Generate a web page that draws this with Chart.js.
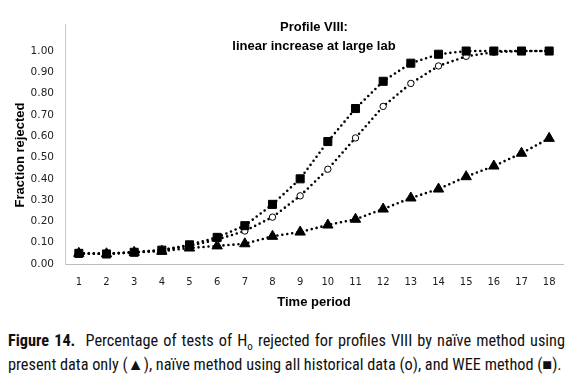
<!DOCTYPE html>
<html><head><meta charset="utf-8">
<script src="https://cdn.jsdelivr.net/npm/chart.js@4/dist/chart.umd.min.js"></script>
<style>
html,body{margin:0;padding:0;background:#fff;width:573px;height:383px;overflow:hidden}
#wrap{position:absolute;left:0;top:0;width:573px;height:318px}
#cap{position:absolute;left:8px;top:329px;width:557px;font-family:'Liberation Sans Narrow','Arial Narrow','Roboto Condensed',sans-serif;font-size:16.3px;line-height:24px;text-align:justify;color:#111}
#cap sub{font-size:11px;line-height:0}
</style></head><body>
<div id="wrap"><canvas id="c" width="573" height="318"></canvas></div>
<div id="cap"><b>Figure 14.</b>&nbsp; Percentage of tests of H<sub>o</sub> rejected for profiles VIII by naïve method using present data only (▲), naïve method using all historical data (o), and WEE method (■).</div>
<script>
const periods = ['1','2','3','4','5','6','7','8','9','10','11','12','13','14','15','16','17','18'];
const naivePresent = [0.05,0.048,0.055,0.06,0.075,0.085,0.095,0.13,0.15,0.183,0.21,0.258,0.31,0.352,0.41,0.46,0.52,0.59];
const naiveHistorical = [0.05,0.048,0.055,0.065,0.085,0.115,0.155,0.22,0.32,0.445,0.592,0.74,0.848,0.93,0.975,0.995,1.0,1.0];
const wee = [0.05,0.047,0.055,0.065,0.09,0.125,0.18,0.28,0.40,0.575,0.73,0.858,0.943,0.985,1.0,1.0,1.0,1.0];
const yTicks = [0,0.1,0.2,0.3,0.4,0.5,0.6,0.7,0.8,0.9,1.0];
const titleLines = ['Profile VIII:','linear increase at large lab'];
const xTitle = 'Time period';
const yTitle = 'Fraction rejected';

const textPlugin = {
  id:'texts',
  afterDraw(chart){
    const ctx = chart.ctx, a = chart.chartArea;
    ctx.save();
    ctx.fillStyle = '#000';
    ctx.font = 'bold 13px "Liberation Sans", sans-serif';
    ctx.textAlign = 'center';
    ctx.textBaseline = 'middle';
    const cx = (a.left + a.right) / 2;
    ctx.fillText(titleLines[0], cx, 27);
    ctx.fillText(titleLines[1], cx, 46);
    ctx.translate(20, 155);
    ctx.rotate(-Math.PI/2);
    ctx.fillText(yTitle, 0, 0);
    ctx.restore();
  }
};

const dotted = {borderDash:[0,5], borderCapStyle:'round', borderWidth:2.6, borderColor:'#000', tension:0, fill:false};

new Chart(document.getElementById('c'), {
  type:'line',
  data:{
    labels: periods,
    datasets:[
      Object.assign({label:'WEE', data:wee, pointStyle:'rect', pointRadius:5.7, pointBackgroundColor:'#000', pointBorderColor:'#000', pointBorderWidth:1}, dotted),
      Object.assign({label:'Naive (historical data)', data:naiveHistorical, pointStyle:'circle', pointRadius:3.2, pointBackgroundColor:'#fff', pointBorderColor:'#000', pointBorderWidth:1}, dotted),
      Object.assign({label:'Naive (present data)', data:naivePresent, pointStyle:'triangle', pointRadius:6, pointBackgroundColor:'#000', pointBorderColor:'#000', pointBorderWidth:1}, dotted)
    ]
  },
  options:{
    responsive:false, animation:false, devicePixelRatio:1,
    layout:{padding:{left:8, right:10, top:24, bottom:0}},
    plugins:{legend:{display:false}, tooltip:{enabled:false}, title:{display:false}},
    scales:{
      x:{
        type:'category', offset:true,
        grid:{display:false, drawTicks:false},
        border:{display:true, color:'#bdbdbd', dash:[1,1], width:1},
        ticks:{color:'#222', font:{family:'DejaVu Sans', size:10}, padding:12, maxRotation:0, autoSkip:false},
        title:{display:true, text:xTitle, color:'#000', font:{family:'Liberation Sans', size:13, weight:'bold'}, padding:{top:4, bottom:8}},
        afterFit(s){ s.height = 54; }
      },
      y:{
        min:0, max:1.127,
        grid:{display:false, drawTicks:false},
        border:{display:true, color:'#c8c8c8', width:1},
        afterBuildTicks(s){ s.ticks = yTicks.map(v=>({value:v})); },
        ticks:{color:'#222', font:{family:'DejaVu Sans', size:10.5}, padding:11, callback:(v)=>Number(v).toFixed(2)},
        afterFit(s){ s.width = 57; }
      }
    }
  },
  plugins:[textPlugin]
});
</script>
</body></html>
